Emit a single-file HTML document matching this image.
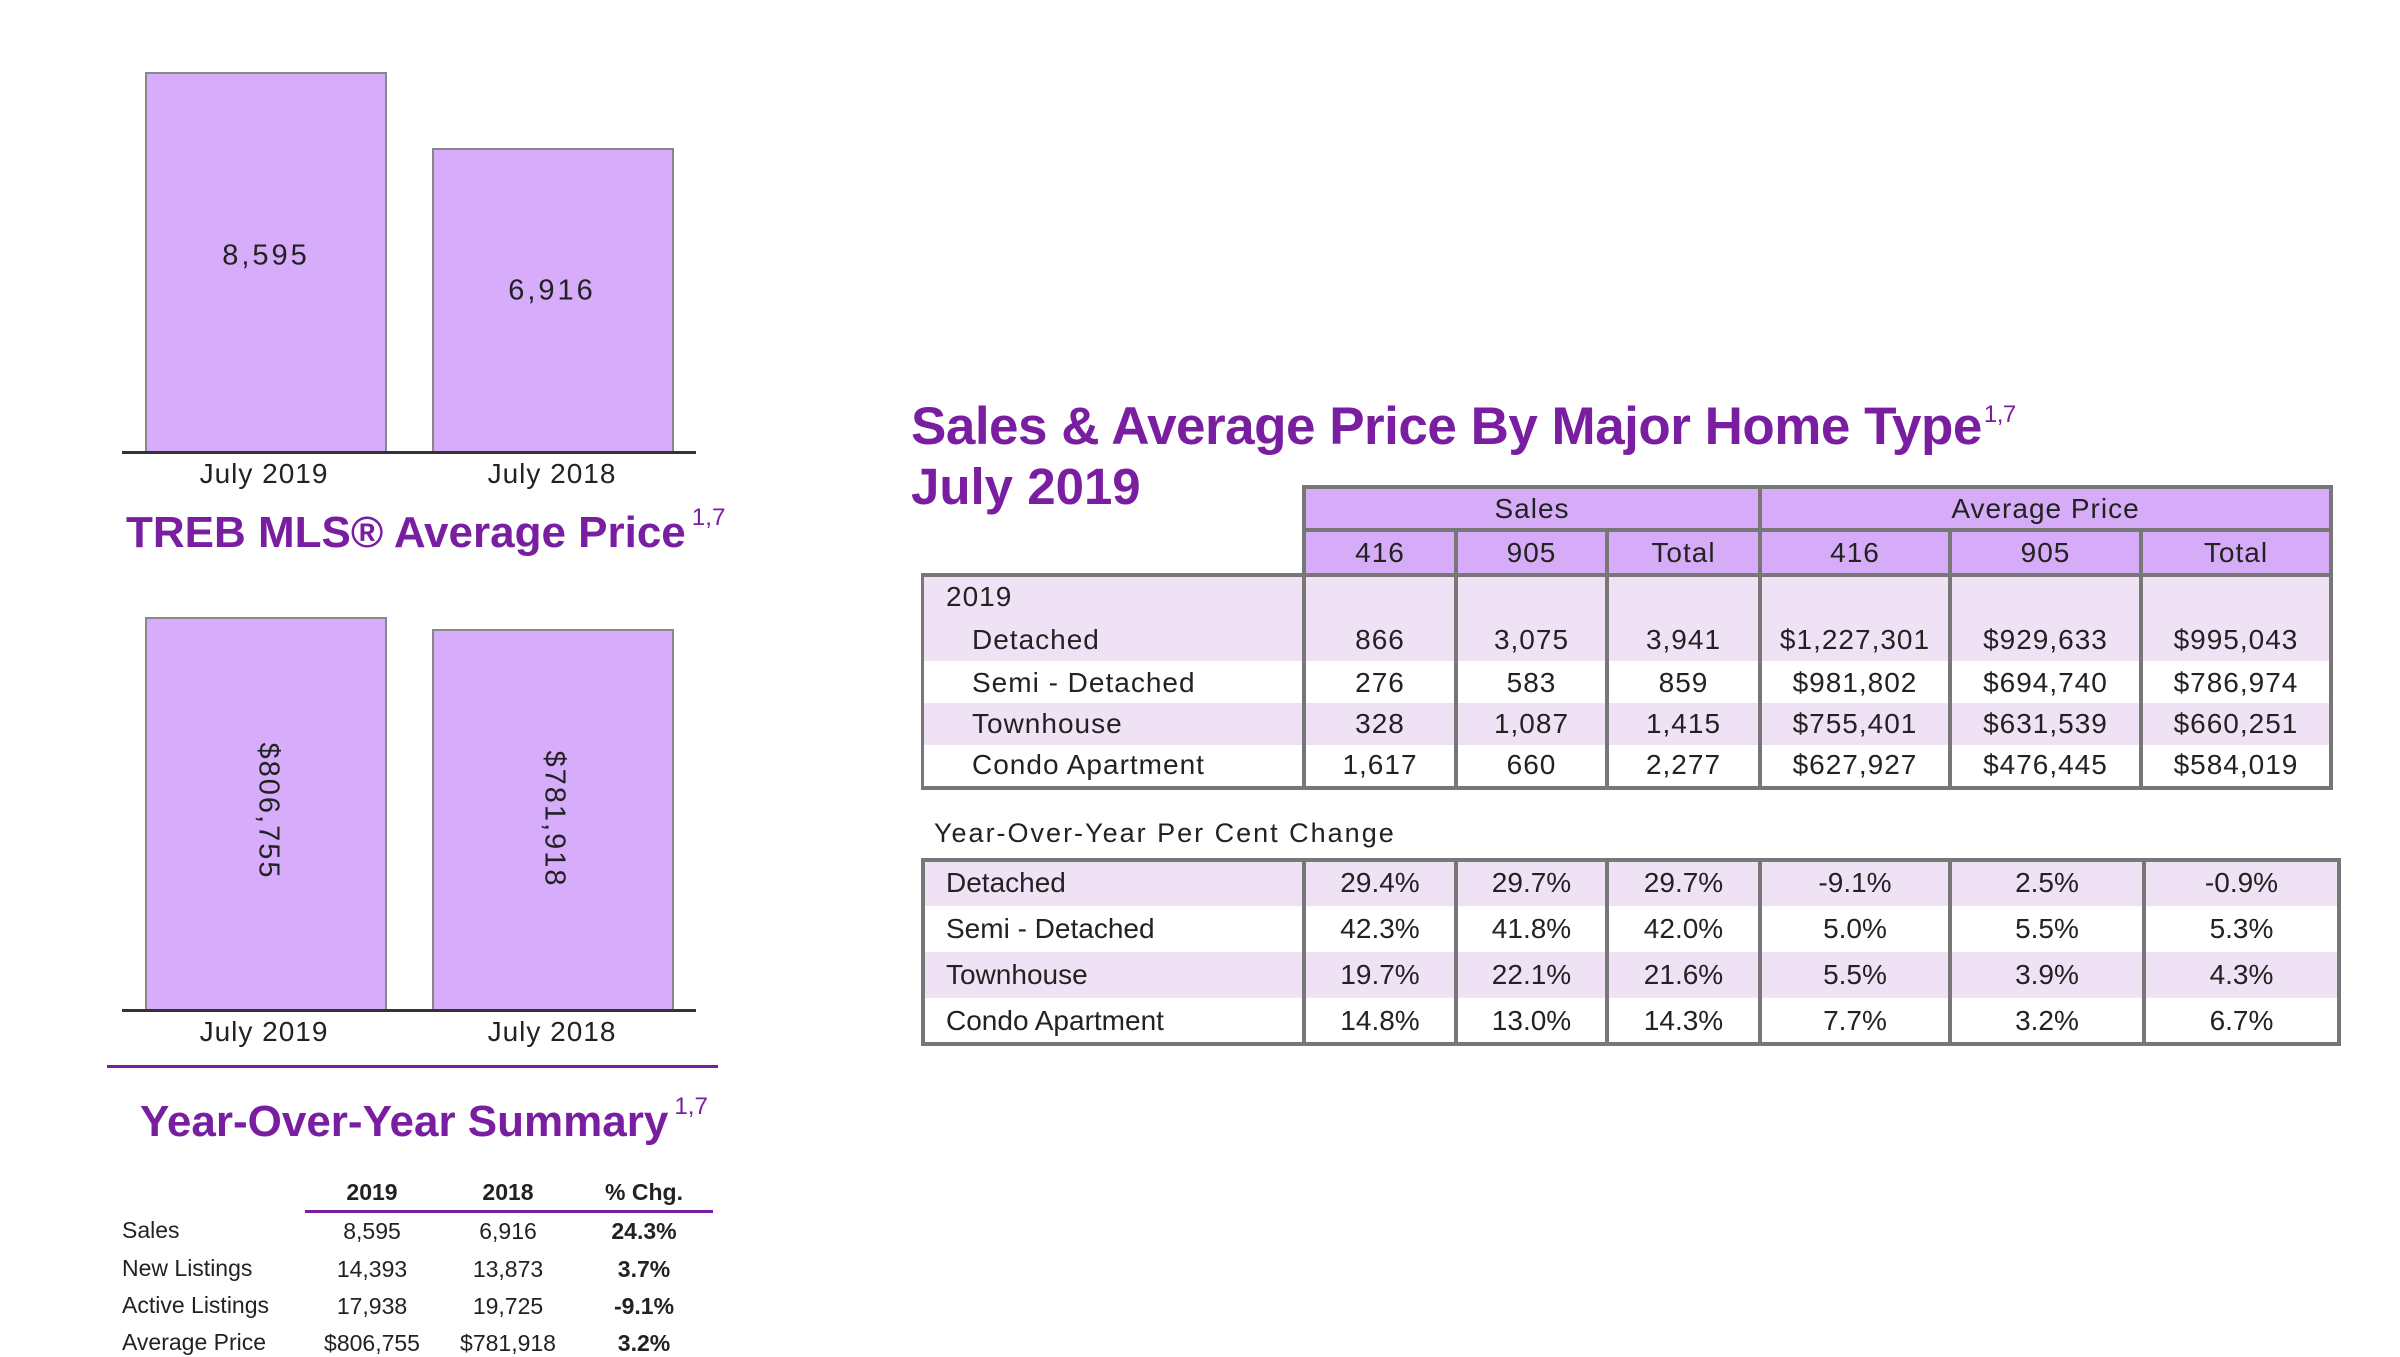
<!DOCTYPE html>
<html><head><meta charset="utf-8"><style>
*{margin:0;padding:0;box-sizing:border-box}
body{width:2400px;height:1350px;background:#fff;position:relative;overflow:hidden;font-family:"Liberation Sans",sans-serif;color:#222}
.a{position:absolute}
.bar{position:absolute;background:#d6acfb;border:2px solid #888;border-bottom:none}
.ax{position:absolute;height:3px;background:#333}
.bl{position:absolute;font-size:28px;letter-spacing:1px;transform:translateX(-50%);white-space:nowrap}
.val{position:absolute;font-size:29px;letter-spacing:3px;transform:translate(-50%,-50%);white-space:nowrap}
.rot{position:absolute;font-size:29px;letter-spacing:2px;transform:translate(-50%,-50%) rotate(90deg);white-space:nowrap}
.ttl{position:absolute;color:#7a1ea1;font-weight:bold;white-space:nowrap}
.ttl sup{font-size:0.55em;font-weight:normal;vertical-align:0.9em;margin-left:6px}
.st{position:absolute;font-size:23px;white-space:nowrap}
.stc{position:absolute;font-size:23px;transform:translateX(-50%);white-space:nowrap}
.b{font-weight:bold}
.c{position:absolute;height:40px;line-height:40px;text-align:center;font-size:28px;letter-spacing:1px;white-space:nowrap}
.l{position:absolute;height:40px;line-height:40px;font-size:28px;letter-spacing:1px;white-space:nowrap}
.vl{position:absolute;width:4px;background:#777}
.hl{position:absolute;height:4px;background:#777}
.c2{position:absolute;height:46px;line-height:46px;text-align:center;font-size:28px;white-space:nowrap}
.l2{position:absolute;height:46px;line-height:46px;font-size:28px;white-space:nowrap}
</style></head><body>

<!-- Sales bar chart -->
<div class="bar" style="left:145px;top:72px;width:242px;height:380px"></div>
<div class="bar" style="left:432px;top:148px;width:242px;height:304px"></div>
<div class="ax" style="left:122px;top:451px;width:574px"></div>
<div class="val" style="left:266px;top:256px">8,595</div>
<div class="val" style="left:552px;top:291px">6,916</div>
<div class="bl" style="left:264px;top:458px">July 2019</div>
<div class="bl" style="left:552px;top:458px">July 2018</div>

<div class="ttl" style="left:126px;top:504px;font-size:44px">TREB MLS® Average Price<sup>1,7</sup></div>

<!-- Avg price bar chart -->
<div class="bar" style="left:145px;top:617px;width:242px;height:393px"></div>
<div class="bar" style="left:432px;top:629px;width:242px;height:381px"></div>
<div class="ax" style="left:122px;top:1009px;width:574px"></div>
<div class="rot" style="left:268px;top:811px">$806,755</div>
<div class="rot" style="left:554px;top:819px">$781,918</div>
<div class="bl" style="left:264px;top:1016px">July 2019</div>
<div class="bl" style="left:552px;top:1016px">July 2018</div>

<div class="a" style="left:107px;top:1065px;width:611px;height:3px;background:#7a1ea1"></div>
<div class="ttl" style="left:140px;top:1093px;font-size:44px">Year-Over-Year Summary<sup>1,7</sup></div>

<div class="stc b" style="left:372px;top:1179px">2019</div>
<div class="stc b" style="left:508px;top:1179px">2018</div>
<div class="stc b" style="left:644px;top:1179px">% Chg.</div>
<div class="a" style="left:305px;top:1210px;width:408px;height:3px;background:#7a1ea1"></div>
<div class="st" style="left:122px;top:1217px">Sales</div>
<div class="stc" style="left:372px;top:1218px">8,595</div>
<div class="stc" style="left:508px;top:1218px">6,916</div>
<div class="stc b" style="left:644px;top:1218px">24.3%</div>
<div class="st" style="left:122px;top:1255px">New Listings</div>
<div class="stc" style="left:372px;top:1256px">14,393</div>
<div class="stc" style="left:508px;top:1256px">13,873</div>
<div class="stc b" style="left:644px;top:1256px">3.7%</div>
<div class="st" style="left:122px;top:1292px">Active Listings</div>
<div class="stc" style="left:372px;top:1293px">17,938</div>
<div class="stc" style="left:508px;top:1293px">19,725</div>
<div class="stc b" style="left:644px;top:1293px">-9.1%</div>
<div class="st" style="left:122px;top:1329px">Average Price</div>
<div class="stc" style="left:372px;top:1330px">$806,755</div>
<div class="stc" style="left:508px;top:1330px">$781,918</div>
<div class="stc b" style="left:644px;top:1330px">3.2%</div>

<!-- Right titles -->
<div class="ttl" style="left:911px;top:396px;font-size:53px;letter-spacing:-0.5px">Sales &amp; Average Price By Major Home Type<sup style="font-size:24px;margin-left:2px">1,7</sup></div>
<div class="ttl" style="left:911px;top:457px;font-size:51px">July 2019</div>

<!-- Table 1 backgrounds -->
<div class="a" style="left:1304px;top:487px;width:1027px;height:88px;background:#d6acf8"></div>
<div class="a" style="left:923px;top:575px;width:1408px;height:86px;background:#efe2f5"></div>
<div class="a" style="left:923px;top:703px;width:1408px;height:42px;background:#efe2f5"></div>
<!-- Table 1 lines -->
<div class="hl" style="left:1302px;top:485px;width:1031px"></div>
<div class="hl" style="left:1302px;top:528px;width:1031px"></div>
<div class="hl" style="left:921px;top:573px;width:1412px"></div>
<div class="hl" style="left:921px;top:786px;width:1412px"></div>
<div class="vl" style="left:921px;top:573px;height:217px;width:3px"></div>
<div class="vl" style="left:1302px;top:485px;height:305px"></div>
<div class="vl" style="left:1454px;top:528px;height:262px"></div>
<div class="vl" style="left:1605px;top:528px;height:262px"></div>
<div class="vl" style="left:1758px;top:485px;height:305px"></div>
<div class="vl" style="left:1948px;top:528px;height:262px"></div>
<div class="vl" style="left:2139px;top:528px;height:262px"></div>
<div class="vl" style="left:2329px;top:485px;height:305px"></div>
<!-- Table 1 text -->
<div class="c" style="left:1304px;width:456px;top:489px">Sales</div>
<div class="c" style="left:1760px;width:571px;top:489px">Average Price</div>
<div class="c" style="left:1304px;width:152px;top:533px">416</div>
<div class="c" style="left:1456px;width:151px;top:533px">905</div>
<div class="c" style="left:1607px;width:153px;top:533px">Total</div>
<div class="c" style="left:1760px;width:190px;top:533px">416</div>
<div class="c" style="left:1950px;width:191px;top:533px">905</div>
<div class="c" style="left:2141px;width:190px;top:533px">Total</div>

<div class="l" style="left:946px;top:577px">2019</div>
<div class="l" style="left:972px;top:620px">Detached</div>
<div class="l" style="left:972px;top:663px">Semi - Detached</div>
<div class="l" style="left:972px;top:704px">Townhouse</div>
<div class="l" style="left:972px;top:745px">Condo Apartment</div>

<div class="c" style="left:1304px;width:152px;top:620px">866</div>
<div class="c" style="left:1456px;width:151px;top:620px">3,075</div>
<div class="c" style="left:1607px;width:153px;top:620px">3,941</div>
<div class="c" style="left:1760px;width:190px;top:620px">$1,227,301</div>
<div class="c" style="left:1950px;width:191px;top:620px">$929,633</div>
<div class="c" style="left:2141px;width:190px;top:620px">$995,043</div>

<div class="c" style="left:1304px;width:152px;top:663px">276</div>
<div class="c" style="left:1456px;width:151px;top:663px">583</div>
<div class="c" style="left:1607px;width:153px;top:663px">859</div>
<div class="c" style="left:1760px;width:190px;top:663px">$981,802</div>
<div class="c" style="left:1950px;width:191px;top:663px">$694,740</div>
<div class="c" style="left:2141px;width:190px;top:663px">$786,974</div>

<div class="c" style="left:1304px;width:152px;top:704px">328</div>
<div class="c" style="left:1456px;width:151px;top:704px">1,087</div>
<div class="c" style="left:1607px;width:153px;top:704px">1,415</div>
<div class="c" style="left:1760px;width:190px;top:704px">$755,401</div>
<div class="c" style="left:1950px;width:191px;top:704px">$631,539</div>
<div class="c" style="left:2141px;width:190px;top:704px">$660,251</div>

<div class="c" style="left:1304px;width:152px;top:745px">1,617</div>
<div class="c" style="left:1456px;width:151px;top:745px">660</div>
<div class="c" style="left:1607px;width:153px;top:745px">2,277</div>
<div class="c" style="left:1760px;width:190px;top:745px">$627,927</div>
<div class="c" style="left:1950px;width:191px;top:745px">$476,445</div>
<div class="c" style="left:2141px;width:190px;top:745px">$584,019</div>

<div class="l" style="left:934px;top:813px;font-size:27px;letter-spacing:2px">Year-Over-Year Per Cent Change</div>

<!-- Table 2 -->
<div class="a" style="left:923px;top:860px;width:1416px;height:46px;background:#efe2f5"></div>
<div class="a" style="left:923px;top:952px;width:1416px;height:46px;background:#efe2f5"></div>
<div class="hl" style="left:921px;top:858px;width:1420px"></div>
<div class="hl" style="left:921px;top:1042px;width:1420px"></div>
<div class="vl" style="left:921px;top:858px;height:188px"></div>
<div class="vl" style="left:1302px;top:858px;height:188px"></div>
<div class="vl" style="left:1454px;top:858px;height:188px"></div>
<div class="vl" style="left:1605px;top:858px;height:188px"></div>
<div class="vl" style="left:1758px;top:858px;height:188px"></div>
<div class="vl" style="left:1948px;top:858px;height:188px"></div>
<div class="vl" style="left:2142px;top:858px;height:188px"></div>
<div class="vl" style="left:2337px;top:858px;height:188px"></div>

<div class="l2" style="left:946px;top:860px">Detached</div>
<div class="l2" style="left:946px;top:906px">Semi - Detached</div>
<div class="l2" style="left:946px;top:952px">Townhouse</div>
<div class="l2" style="left:946px;top:998px">Condo Apartment</div>

<div class="c2" style="left:1304px;width:152px;top:860px">29.4%</div>
<div class="c2" style="left:1456px;width:151px;top:860px">29.7%</div>
<div class="c2" style="left:1607px;width:153px;top:860px">29.7%</div>
<div class="c2" style="left:1760px;width:190px;top:860px">-9.1%</div>
<div class="c2" style="left:1950px;width:194px;top:860px">2.5%</div>
<div class="c2" style="left:2144px;width:195px;top:860px">-0.9%</div>

<div class="c2" style="left:1304px;width:152px;top:906px">42.3%</div>
<div class="c2" style="left:1456px;width:151px;top:906px">41.8%</div>
<div class="c2" style="left:1607px;width:153px;top:906px">42.0%</div>
<div class="c2" style="left:1760px;width:190px;top:906px">5.0%</div>
<div class="c2" style="left:1950px;width:194px;top:906px">5.5%</div>
<div class="c2" style="left:2144px;width:195px;top:906px">5.3%</div>

<div class="c2" style="left:1304px;width:152px;top:952px">19.7%</div>
<div class="c2" style="left:1456px;width:151px;top:952px">22.1%</div>
<div class="c2" style="left:1607px;width:153px;top:952px">21.6%</div>
<div class="c2" style="left:1760px;width:190px;top:952px">5.5%</div>
<div class="c2" style="left:1950px;width:194px;top:952px">3.9%</div>
<div class="c2" style="left:2144px;width:195px;top:952px">4.3%</div>

<div class="c2" style="left:1304px;width:152px;top:998px">14.8%</div>
<div class="c2" style="left:1456px;width:151px;top:998px">13.0%</div>
<div class="c2" style="left:1607px;width:153px;top:998px">14.3%</div>
<div class="c2" style="left:1760px;width:190px;top:998px">7.7%</div>
<div class="c2" style="left:1950px;width:194px;top:998px">3.2%</div>
<div class="c2" style="left:2144px;width:195px;top:998px">6.7%</div>

</body></html>
